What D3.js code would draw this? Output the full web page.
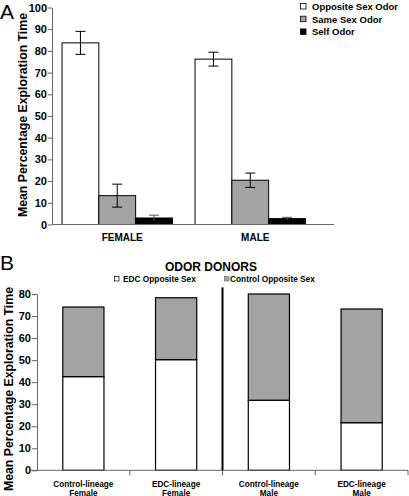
<!DOCTYPE html>
<html><head><meta charset="utf-8">
<script src="https://cdn.jsdelivr.net/npm/d3@7"></script>
<style>
html,body{margin:0;padding:0;background:#fff;}
svg{display:block;font-family:"Liberation Sans",Arial,Helvetica,sans-serif;}
</style></head>
<body>
<svg id="c" width="409" height="496"></svg>
<script>
// ---- Panel A data ----
const groupsA = ["FEMALE", "MALE"];
const seriesA = ["Opposite Sex Odor", "Same Sex Odor", "Self Odor"];
const meansFemale = [83.7, 13.3, 3.0];
const errFemale = [5.3, 5.3, 1.3];
const meansMale = [76.2, 20.4, 2.7];
const errMale = [3.2, 3.3, 0.6];
const ticksA = [0, 10, 20, 30, 40, 50, 60, 70, 80, 90, 100];

// ---- Panel B data ----
const catsB = [["Control-lineage", "Female"], ["EDC-lineage", "Female"], ["Control-lineage", "Male"], ["EDC-lineage", "Male"]];
const seriesB = ["EDC Opposite Sex", "Control Opposite Sex"];
const edcOpp = [42.5, 50.2, 31.8, 21.6];
const ctrlOpp = [31.6, 28.1, 48.2, 51.6];
const ticksB = [0, 10, 20, 30, 40, 50, 60, 70, 80];

const colorsA = ["#ffffff", "#a3a3a3", "#000000"];
const colorsB = ["#ffffff", "#a3a3a3"];

const svg = d3.select("#c");
const F = "Liberation Sans, Arial, Helvetica, sans-serif";

// ================= Panel A =================
const gA = svg.append("g");
const yA = d3.scaleLinear().domain([0, 100]).range([224.5, 7.5]);
const xA = d3.scaleBand().domain(groupsA).range([52, 334])
  .paddingInner(0.17).paddingOuter(0.145).align(0.26);
const xSub = d3.scaleBand().domain(seriesA).range([0, xA.bandwidth()]);

const dataA = groupsA.map((g, i) => ({
  g, vals: seriesA.map((s, j) => ({
    s, j,
    v: (i === 0 ? meansFemale : meansMale)[j],
    e: (i === 0 ? errFemale : errMale)[j]
  }))
}));

const grp = gA.selectAll("g.grp").data(dataA).join("g")
  .attr("transform", d => `translate(${xA(d.g)},0)`);
grp.selectAll("rect").data(d => d.vals).join("rect")
  .attr("x", d => xSub(d.s)).attr("width", xSub.bandwidth())
  .attr("y", d => yA(d.v)).attr("height", d => yA(0) - yA(d.v))
  .attr("fill", d => colorsA[d.j]).attr("stroke", "#000").attr("stroke-width", 1);
// error bars
const eb = grp.selectAll("g.eb").data(d => d.vals).join("g").attr("class", "eb")
  .attr("stroke", d => d.j === 2 ? "#555" : "#000").attr("stroke-width", 1);
eb.append("line")
  .attr("x1", d => xSub(d.s) + xSub.bandwidth() / 2).attr("x2", d => xSub(d.s) + xSub.bandwidth() / 2)
  .attr("y1", d => yA(d.v + d.e)).attr("y2", d => yA(d.v - d.e));
eb.append("line")
  .attr("x1", d => xSub(d.s) + xSub.bandwidth() / 2 - 5).attr("x2", d => xSub(d.s) + xSub.bandwidth() / 2 + 5)
  .attr("y1", d => yA(d.v + d.e)).attr("y2", d => yA(d.v + d.e));
eb.filter(d => d.j !== 2).append("line")
  .attr("x1", d => xSub(d.s) + xSub.bandwidth() / 2 - 5).attr("x2", d => xSub(d.s) + xSub.bandwidth() / 2 + 5)
  .attr("y1", d => yA(d.v - d.e)).attr("y2", d => yA(d.v - d.e));

// y axis A
const axA = gA.append("g").attr("transform", "translate(52,0)")
  .call(d3.axisLeft(yA).tickValues(ticksA).tickSize(4).tickPadding(1).tickSizeOuter(0));
axA.select(".domain").attr("stroke", "#666");
axA.selectAll(".tick line").attr("stroke", "#666");
axA.selectAll("text").attr("font-family", F).attr("font-size", 11).attr("font-weight", "bold").attr("fill", "#000");
// x axis A
gA.append("line").attr("x1", 52).attr("x2", 334).attr("y1", yA(0)).attr("y2", yA(0)).attr("stroke", "#666");
gA.selectAll("text.xl").data(groupsA).join("text").attr("class", "xl")
  .attr("x", d => xA(d) + xA.bandwidth() / 2 + 5).attr("y", 240.5)
  .attr("text-anchor", "middle").attr("font-size", 10).attr("font-weight", "bold").text(d => d);
// y title A
gA.append("text").attr("transform", "translate(26.5,115) rotate(-90)")
  .attr("text-anchor", "middle").attr("font-size", 12.3).attr("font-weight", "bold").text("Mean Percentage Exploration Time");
// Panel label
gA.append("text").attr("x", 0).attr("y", 18.5).attr("font-size", 21).text("A");
// legend A
const lgA = gA.selectAll("g.lg").data(seriesA).join("g")
  .attr("transform", (d, i) => `translate(300.5,${3.5 + i * 12.7})`);
lgA.append("rect").attr("width", 5.5).attr("height", 5.5)
  .attr("fill", (d, i) => colorsA[i]).attr("stroke", "#000").attr("stroke-width", 0.8);
lgA.append("text").attr("x", 11.5).attr("y", 6.3).attr("font-size", 9.5).attr("font-weight", "bold").text(d => d);

// ================= Panel B =================
const gB = svg.append("g");
const yB = d3.scaleLinear().domain([0, 80]).range([470.3, 294]);
const xB = d3.scaleBand().domain(d3.range(catsB.length)).range([37, 408])
  .paddingInner(0.556).paddingOuter(0.278);
const stackData = catsB.map((c, i) => ({ i, edc: edcOpp[i], ctrl: ctrlOpp[i] }));
const stack = d3.stack().keys(["edc", "ctrl"])(stackData);

gB.selectAll("g.layer").data(stack).join("g").attr("class", "layer")
  .attr("fill", (d, k) => colorsB[k])
  .selectAll("rect").data(d => d).join("rect")
  .attr("x", d => xB(d.data.i)).attr("width", xB.bandwidth())
  .attr("y", d => yB(d[1])).attr("height", d => yB(d[0]) - yB(d[1]))
  .attr("stroke", "#000").attr("stroke-width", 1.2);

// y axis B
const axB = gB.append("g").attr("transform", "translate(37,0)")
  .call(d3.axisLeft(yB).tickValues(ticksB).tickSize(5).tickPadding(1).tickSizeOuter(0));
axB.select(".domain").attr("stroke", "#666");
axB.selectAll(".tick line").attr("stroke", "#666");
axB.selectAll("text").attr("font-family", F).attr("font-size", 11).attr("font-weight", "bold").attr("fill", "#000");
// x axis B
gB.append("line").attr("x1", 31).attr("x2", 408).attr("y1", yB(0)).attr("y2", yB(0)).attr("stroke", "#666");
const stepB = xB.step();
gB.selectAll("line.tk").data(d3.range(catsB.length)).join("line").attr("class", "tk")
  .attr("x1", i => xB(i) - stepB * xB.paddingInner() / 2 + stepB)
  .attr("x2", i => xB(i) - stepB * xB.paddingInner() / 2 + stepB)
  .attr("y1", yB(0)).attr("y2", yB(0) + 5).attr("stroke", "#666");
// divider
const divX = xB(1) - stepB * xB.paddingInner() / 2 + stepB;
gB.append("line").attr("x1", divX).attr("x2", divX).attr("y1", yB(83)).attr("y2", yB(0))
  .attr("stroke", "#000").attr("stroke-width", 2);
// x labels B
const xl = gB.selectAll("text.xlb").data(catsB).join("text").attr("class", "xlb")
  .attr("text-anchor", "middle").attr("font-size", 8.2).attr("font-weight", "bold");
xl.append("tspan").attr("x", (d, i) => xB(i) + xB.bandwidth() / 2).attr("y", 486.5).text(d => d[0]);
xl.append("tspan").attr("x", (d, i) => xB(i) + xB.bandwidth() / 2).attr("y", 495.5).text(d => d[1]);
// y title B
gB.append("text").attr("transform", "translate(13,389) rotate(-90)")
  .attr("text-anchor", "middle").attr("font-size", 12.3).attr("font-weight", "bold").text("Mean Percentage Exploration Time");
gB.append("text").attr("x", 0).attr("y", 270).attr("font-size", 21).text("B");
// legend B
gB.append("text").attr("x", 211).attr("y", 270.5).attr("text-anchor", "middle")
  .attr("font-size", 12).attr("font-weight", "bold").text("ODOR DONORS");
const lgBx = [114.5, 224.5];
const lgB = gB.selectAll("g.lgb").data(seriesB).join("g")
  .attr("transform", (d, i) => `translate(${lgBx[i]},276.5)`);
lgB.append("rect").attr("width", 4.5).attr("height", 4.5)
  .attr("fill", (d, i) => colorsB[i]).attr("stroke", (d, i) => i === 0 ? "#000" : "#777").attr("stroke-width", 0.7);
lgB.append("text").attr("x", (d, i) => i === 0 ? 8.5 : 5.5).attr("y", 5).attr("font-size", 8.3).attr("font-weight", "bold").text(d => d);
</script>
</body></html>
